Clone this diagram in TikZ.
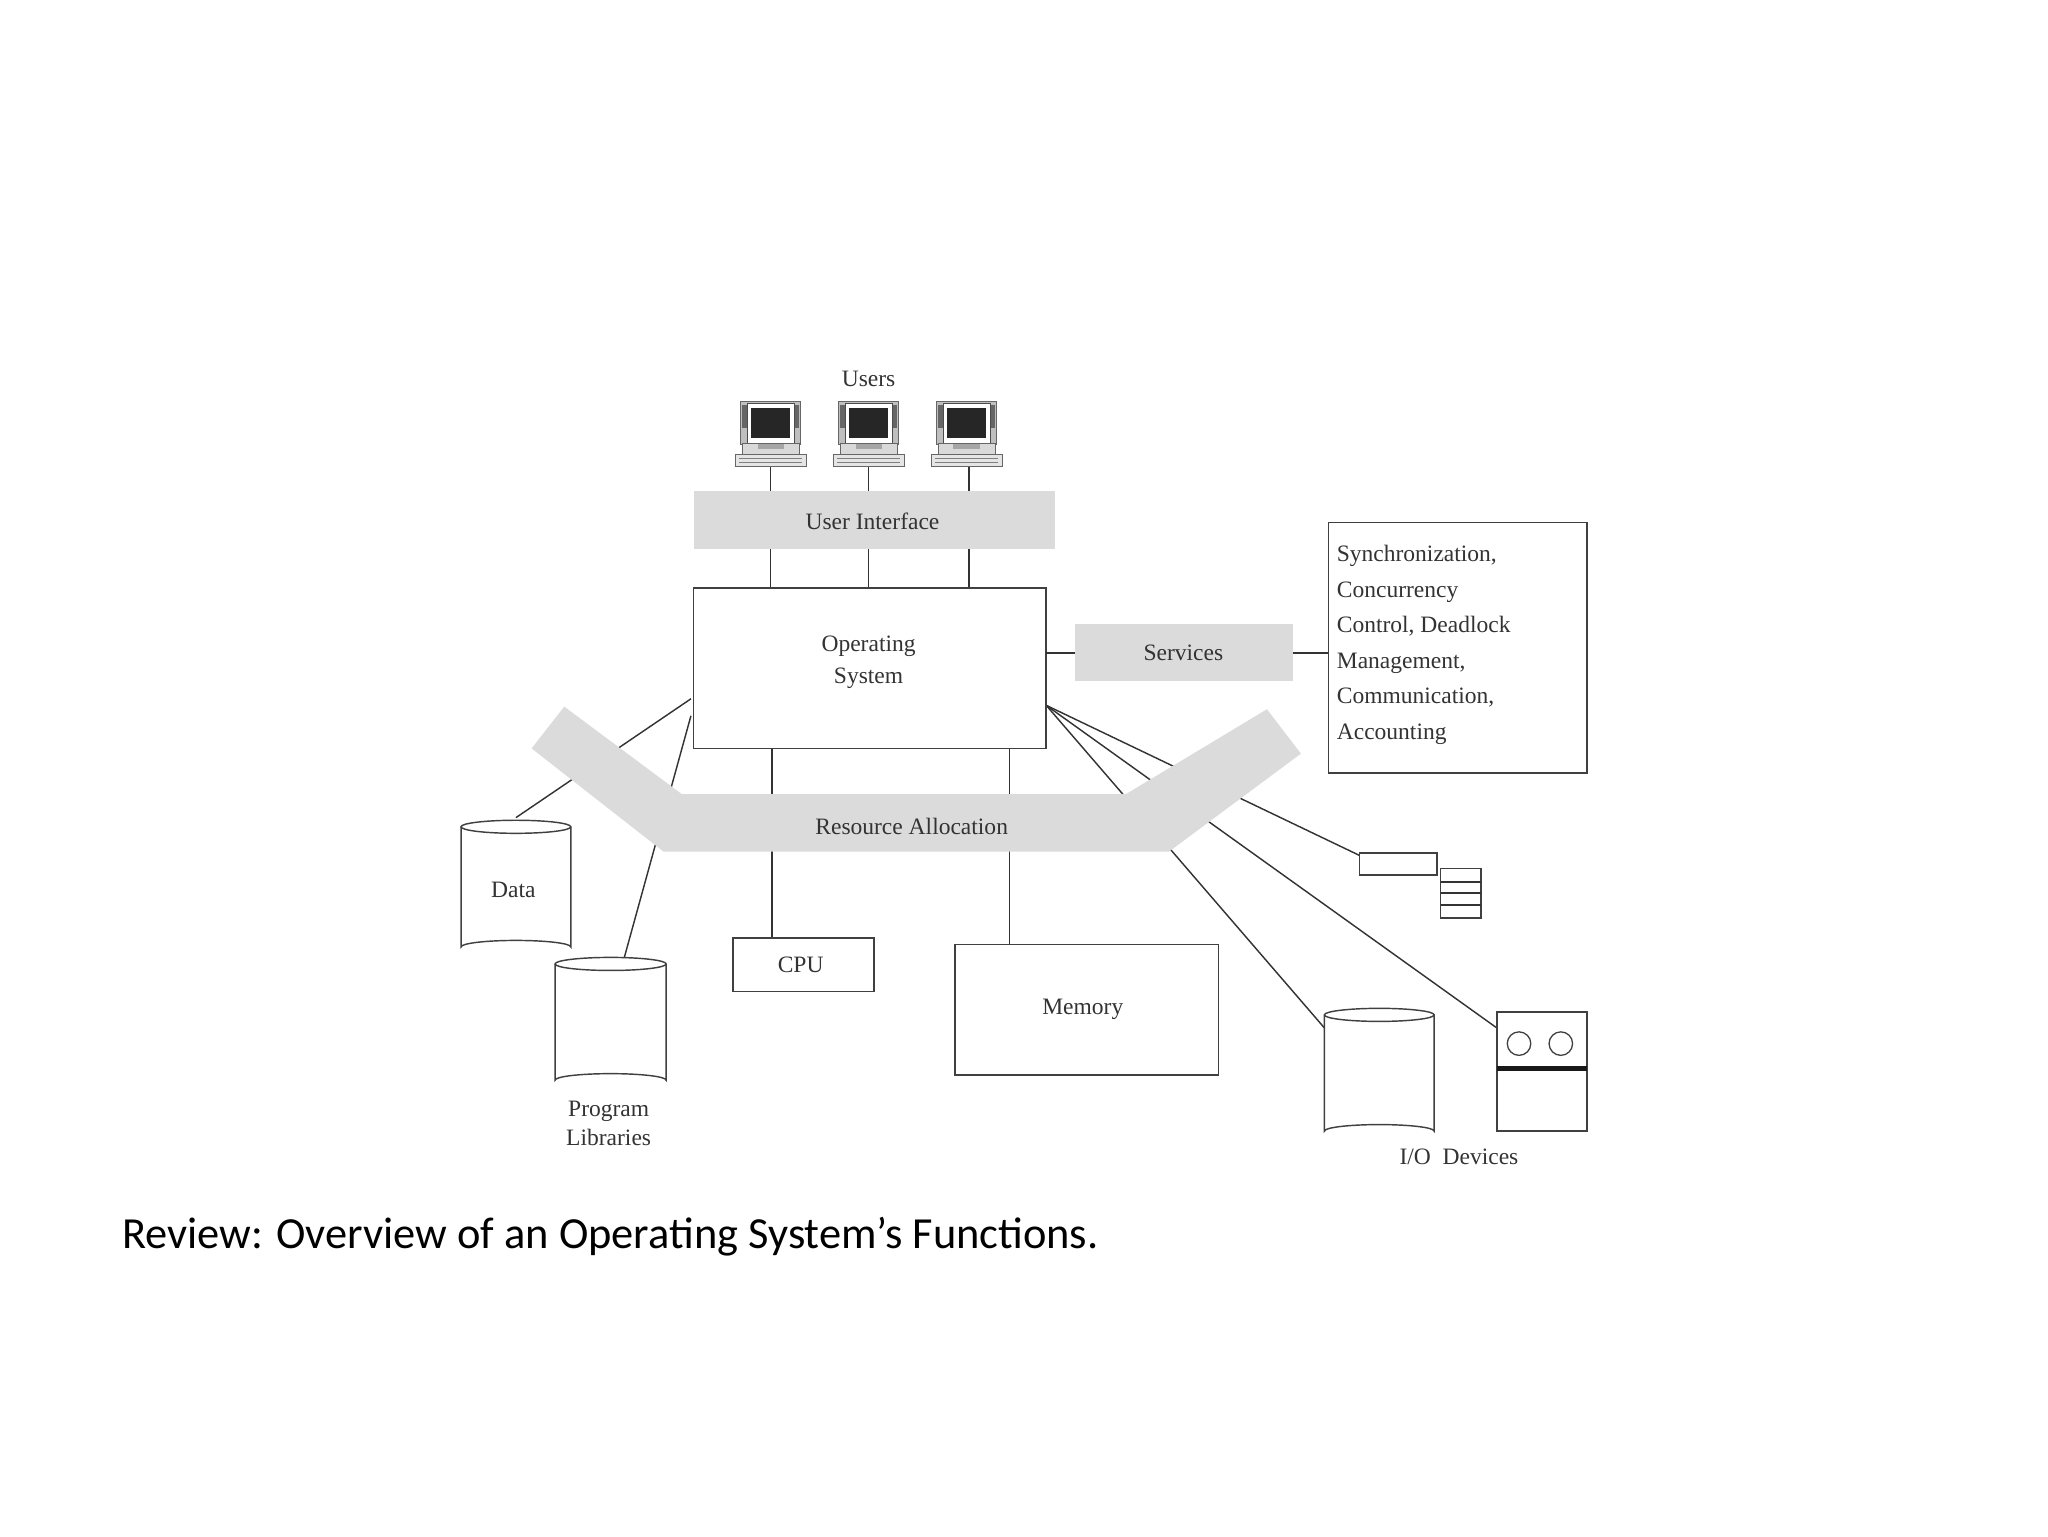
\documentclass[tikz,border=0pt]{standalone}
\usepackage{fontspec}
\setmainfont{Liberation Serif}
\newfontfamily\capfont{Carlito}
\begin{document}
\begin{tikzpicture}[x=1pt,y=-1pt,
  ln/.style={draw=black!80,line width=1.1pt},
  gbox/.style={fill=black!14,draw=none},
  wbox/.style={draw=black!75,line width=1.2pt,fill=white},
  lbl/.style={font=\fontsize{18}{21}\selectfont,text=black!80,align=center},
  pc/.pic={
    \fill[black!25,draw=black!60] (-23,-33) rectangle (23,0);
    \fill[black!60] (-22,-30) rectangle (22,-12);
    \fill[white,draw=black!70] (-18,-31) rectangle (18,-1);
    \fill[black!85] (-15,-28) rectangle (15,-5);
    \fill[black!15,draw=black!60] (-22,-1) rectangle (22,8);
    \fill[black!35] (-10,0) rectangle (10,4);
    \fill[black!10,draw=black!60] (-27,8) rectangle (27,17);
    \draw[black!50] (-24,11)--(24,11) (-24,14)--(24,14);
  }]
\useasboundingbox (0,0) rectangle (1568,1176);
% connectors behind
\coordinate (osl1) at (529,535); \coordinate (osl2) at (529,548);
\coordinate (osr) at (801,540);
\coordinate (datat) at (395,626); \coordinate (libt) at (478,733);
\coordinate (tapel) at (1041,655); \coordinate (prtl) at (1146,787);
\coordinate (diskl) at (1014,787);
\draw[ln] (osl1)--(datat); \draw[ln] (osl2)--(libt);
\draw[ln] (osr)--(tapel); \draw[ln] (osr)--(prtl); \draw[ln] (osr)--(diskl);
\draw[ln] (591,573)--(591,718); \draw[ln] (773,573)--(773,723);
\foreach \x in {590,665,742} \draw[ln] (\x,357)--(\x,450);
% band
\fill[black!14] (407,573)--(432,541)--(522,608)--(862,608)--(970,543)--(996,577)--(895,652)--(508,652)--cycle;
\node[lbl] (ra) at (698,633) {Resource Allocation};
% users
\node[lbl] (users) at (665,290) {Users};
\foreach \x in {590,665,740} \pic at (\x,340) {pc};
\fill[gbox] (531,376) rectangle (808,420);
\node[lbl] (ui) at (668,399) {User Interface};
\draw[wbox] (531,450) rectangle (801,573);
\node[lbl,font=\fontsize{18}{24}\selectfont] (os) at (665,507) {Operating\\System};
\draw[ln] (801,500)--(823,500) (990,500)--(1017,500);
\fill[gbox] (823,478) rectangle (990,521);
\node[lbl] (serv) at (906,500) {Services};
\draw[wbox] (1017,400) rectangle (1215,592);
\node[lbl,align=left,anchor=north west,font=\fontsize{18}{27.2}\selectfont] (sync) at (1020,414)
 {Synchronization,\\Concurrency\\Control, Deadlock\\Management,\\Communication,\\Accounting};
% CPU, memory
\draw[wbox] (561,718) rectangle (669,759); \node[lbl] (cpu) at (613,739) {CPU};
\draw[wbox] (731,723) rectangle (933,823); \node[lbl] (mem) at (829,773) {Memory};
% cylinders
\foreach \l/\r/\t/\b in {353/437/633/725, 425/510/738/827, 1014/1098/777/866}{
  \fill[white] (\l,\t) rectangle (\r,\b);
  \draw[black!75,line width=1.1pt] (\l,\t)--(\l,\b) arc[start angle=180,end angle=360,x radius={(\r-\l)/2},y radius=5]--(\r,\t);
  \draw[black!75,line width=1.1pt,fill=white] ({(\l+\r)/2},\t) ellipse[x radius={(\r-\l)/2},y radius=5];
}
\node[lbl] (data) at (393,681) {Data};
\node[lbl,font=\fontsize{18}{22}\selectfont] (lib) at (466,860) {Program\\Libraries};
% tape & stack
\draw[wbox] (1041,653) rectangle (1100,670);
\draw[wbox] (1103,665) rectangle (1134,703);
\foreach \y in {675,684,693} \draw[black!80,line width=1.6pt] (1103,\y)--(1134,\y);
% printer
\draw[wbox] (1146,775) rectangle (1215,866);
\draw[black!75,line width=1pt] (1163,799) circle (9) (1195,799) circle (9);
\draw[black!90,line width=3.5pt] (1146,818)--(1215,818);
\node[lbl] (io) at (1117,886) {I/O\ \ Devices};
\node[anchor=west,font=\capfont\fontsize{34}{40}\selectfont] (cap) at (90,947) {Review: Overview of an Operating System’s Functions.};
\end{tikzpicture}
\end{document}
